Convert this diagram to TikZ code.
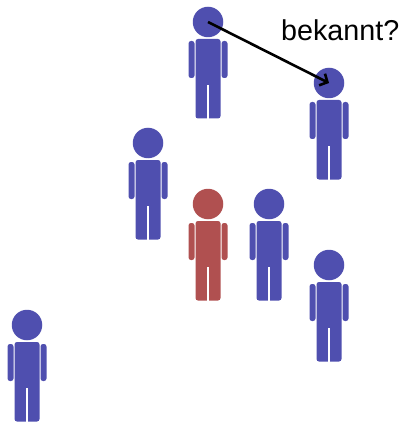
\documentclass[tikz,border=0pt]{standalone}
\usepackage{fontspec}
\usetikzlibrary{arrows.meta}
\setmainfont{Liberation Sans}
\definecolor{personblue}{HTML}{4F4FAF}
\definecolor{personred}{HTML}{B05050}

\begin{document}
\begin{tikzpicture}[
    x=1pt,
    y=-1pt,
    head/.style={
        circle,
        fill=personcol,
        inner sep=0pt,
        minimum size=30.5pt
    },
    limb/.style={
        fill=personcol,
        rounded corners=2.5pt
    },
    arrow/.style={->, line width=2.6pt, >={Straight Barb[length=6pt,width=13pt]}},
    person/.pic={
        \node[head] (head) at (0,0) {};
        \fill[limb] (-12.5,17) rectangle (12.5,96.5);
        \fill[limb] (-19.5,19) rectangle (-13.5,56);
        \fill[limb] (13.5,19) rectangle (19.5,56);
        \fill[white] (-0.7,63) rectangle (0.7,97);
    }
]
\useasboundingbox (0,0) rectangle (401,422);
\colorlet{personcol}{personblue}

\pic (known) at (208,22) {person};
\pic (target) at (329,83) {person};
\pic (left) at (148,143) {person};
\pic (middle) at (269,204) {person};
\pic (lower) at (329,265) {person};
\pic (far) at (27,325) {person};
\colorlet{personcol}{personred}
\pic (self) at (208,204) {person};

\node[anchor=base west, inner sep=0pt, font=\fontsize{28.7pt}{30pt}\selectfont] (question) at (281,41) {bekannt?};

\draw[arrow] (knownhead.center) -- (targethead.center);

\end{tikzpicture}
\end{document}
